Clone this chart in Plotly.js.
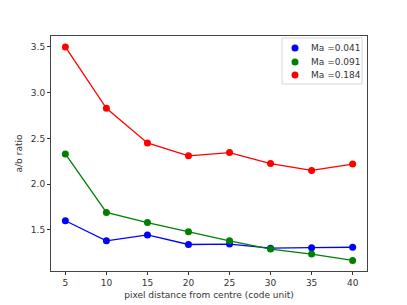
<!DOCTYPE html>
<html>
<head>
<meta charset="utf-8">
<script src="https://cdn.plot.ly/plotly-3.0.1.min.js"></script>
<style>html,body{margin:0;padding:0;background:#fff}#chart{width:407px;height:305px}</style>
</head>
<body>
<div id="chart"></div>
<script>
const distances = [5, 10, 15, 20, 25, 30, 35, 40];
const ma041 = [1.60, 1.38, 1.445, 1.34, 1.345, 1.30, 1.305, 1.31];
const ma091 = [2.33, 1.69, 1.58, 1.48, 1.38, 1.29, 1.235, 1.165];
const ma184 = [3.50, 2.83, 2.45, 2.31, 2.345, 2.225, 2.15, 2.22];
const seriesNames = ["Ma =0.041", "Ma =0.091", "Ma =0.184"];
const seriesColors = ["#0000ff", "#008000", "#ff0000"];
const seriesValues = [ma041, ma091, ma184];

const W = 407, H = 305;
const M = {l: 51, r: 40, t: 36, b: 34};
const PW = W - M.l - M.r, PH = H - M.t - M.b;
const px = x => (x - M.l) / PW;
const py = y => (H - M.b - y) / PH;

const traces = [];
seriesValues.forEach((vals, i) => {
  traces.push({
    x: distances, y: vals, type: "scatter", mode: "lines+markers",
    name: seriesNames[i],
    line: {color: seriesColors[i], width: 1.3},
    marker: {color: seriesColors[i], size: 7},
    showlegend: false
  });
});

// legend drawn as annotations + shapes (matplotlib-style compact legend)
const shapes = [{
  type: "rect", xref: "paper", yref: "paper",
  x0: px(282), x1: px(362), y0: py(84), y1: py(38),
  line: {color: "#d6d6d6", width: 1}, fillcolor: "rgba(255,255,255,0.8)", layer: "above"
}];
const annotations = [];
const rowY = [48, 62, 75];
seriesNames.forEach((name, i) => {
  shapes.push({
    type: "circle", xref: "paper", yref: "paper",
    xsizemode: "pixel", ysizemode: "pixel",
    xanchor: px(295), yanchor: py(rowY[i]),
    x0: -3.5, x1: 3.5, y0: -3.5, y1: 3.5,
    fillcolor: seriesColors[i], line: {width: 0}, layer: "above"
  });
  annotations.push({
    xref: "paper", yref: "paper", x: px(309), y: py(rowY[i]),
    xanchor: "left", yanchor: "middle", showarrow: false,
    text: name, font: {family: "DejaVu Sans", size: 9, color: "#333"}
  });
});

const layout = {
  width: W, height: H,
  margin: M,
  paper_bgcolor: "#fff", plot_bgcolor: "#fff",
  font: {family: "DejaVu Sans", size: 9, color: "#333"},
  showlegend: false,
  shapes: shapes,
  annotations: annotations,
  xaxis: {
    range: [3.25, 41.75],
    tickvals: distances,
    ticktext: distances.map(String),
    ticks: "outside", ticklen: 3, tickcolor: "#333", tickwidth: 1,
    showline: true, mirror: true, linecolor: "#444", linewidth: 1,
    showgrid: false, zeroline: false,
    title: {text: "pixel distance from centre (code unit)", font: {family: "DejaVu Sans", size: 9, color: "#333"}, standoff: 4}
  },
  yaxis: {
    range: [1.05, 3.62],
    tickvals: [1.5, 2.0, 2.5, 3.0, 3.5],
    ticktext: ["1.5", "2.0", "2.5", "3.0", "3.5"],
    ticks: "outside", ticklen: 3, tickcolor: "#333", tickwidth: 1,
    showline: true, mirror: true, linecolor: "#444", linewidth: 1,
    showgrid: false, zeroline: false,
    title: {text: "a/b ratio", font: {family: "DejaVu Sans", size: 9, color: "#333"}, standoff: 6}
  }
};
Plotly.newPlot("chart", traces, layout, {displayModeBar: false, staticPlot: true});
</script>
</body>
</html>
